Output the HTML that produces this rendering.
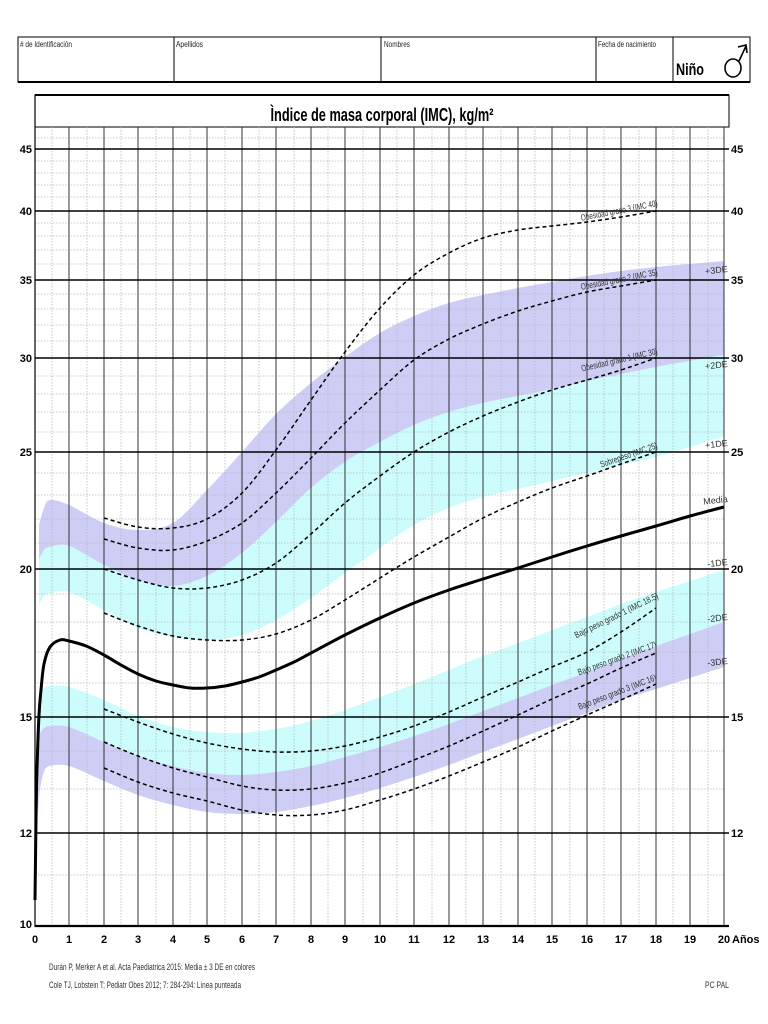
<!DOCTYPE html>
<html><head><meta charset="utf-8"><style>
html,body{margin:0;padding:0;background:#fff;}
svg{display:block;}
text{font-family:"Liberation Sans Narrow","Liberation Sans",sans-serif;}
</style></head><body>
<svg id="c" width="768" height="1024" viewBox="0 0 768 1024" xmlns="http://www.w3.org/2000/svg">
<!-- header -->
<rect x="18" y="37" width="732" height="45" fill="none" stroke="#000" stroke-width="1"/>
<line x1="18" y1="82" x2="750" y2="82" stroke="#000" stroke-width="2"/>
<line x1="174" y1="37" x2="174" y2="82" stroke="#000"/>
<line x1="381" y1="37" x2="381" y2="82" stroke="#000"/>
<line x1="596" y1="37" x2="596" y2="82" stroke="#000"/>
<line x1="673" y1="37" x2="673" y2="82" stroke="#000"/>
<g font-size="8" fill="#222">
<text x="20" y="47" textLength="52" lengthAdjust="spacingAndGlyphs"># de Identificación</text>
<text x="176" y="47" textLength="27" lengthAdjust="spacingAndGlyphs">Apellidos</text>
<text x="384" y="47" textLength="26" lengthAdjust="spacingAndGlyphs">Nombres</text>
<text x="598" y="47" textLength="58" lengthAdjust="spacingAndGlyphs">Fecha de nacimiento</text>
</g>
<text x="676" y="75" font-size="17" font-weight="bold" textLength="28" lengthAdjust="spacingAndGlyphs">Niño</text>
<g fill="none" stroke="#000" stroke-width="1.6">
<ellipse cx="733" cy="68" rx="8" ry="9"/>
<line x1="739" y1="61" x2="746" y2="46"/>
<polyline points="738,47 746,45 747,53"/>
</g>

<!-- title box -->
<rect x="35" y="95" width="694" height="32" fill="none" stroke="#000" stroke-width="1"/>
<line x1="35" y1="95" x2="729" y2="95" stroke="#000" stroke-width="2"/>
<text x="382" y="121" font-size="18" font-weight="bold" text-anchor="middle" textLength="223" lengthAdjust="spacingAndGlyphs">Ìndice de masa corporal (IMC), kg/m²</text>

<!-- bands -->
<polygon class="s" fill="#cdcdf6" points="39,525 44,508 50,500 69,505 104,523 138,530 173,523 207,490 242,452 276,414 311,383 345,357 380,333 414,316 449,303 483,295 518,288 552,282 587,276 621,271 656,267 690,264 724,261 724,355 690,361 656,367 621,374 587,381 552,389 518,396 483,403 449,412 414,425 380,442 345,462 311,488 276,522 242,553 207,576 173,586 138,580 104,565 69,546 50,547 44,550 39,560"/>
<polygon class="s" fill="#ccfdfc" points="39,560 44,550 50,547 69,546 104,565 138,580 173,586 207,576 242,553 276,522 311,488 345,462 380,442 414,425 449,412 483,403 518,396 552,389 587,381 621,374 656,367 690,361 724,355 724,436 690,447 656,457 621,465 587,473 552,481 518,489 483,497 449,508 414,525 380,548 345,573 311,598 276,620 242,635 207,640 173,637 138,628 104,610 69,592 50,593 44,596 39,605"/>
<polygon class="s" fill="#ccfdfc" points="39,692 44,688 50,686 69,687 104,700 138,716 173,727 207,732 242,733 276,729 311,721 345,710 380,697 414,684 449,670 483,656 518,643 552,630 587,617 621,604 656,592 690,581 724,570 724,622 690,634 656,646 621,659 587,672 552,685 518,698 483,711 449,724 414,736 380,747 345,757 311,766 276,772 242,775 207,773 173,766 138,756 104,742 69,727 50,726 44,728 39,735"/>
<polygon class="s" fill="#cdcdf6" points="39,735 44,728 50,726 69,727 104,742 138,756 173,766 207,773 242,775 276,772 311,766 345,757 380,747 414,736 449,724 483,711 518,698 552,685 587,672 621,659 656,646 690,634 724,622 724,667 690,678 656,689 621,700 587,713 552,726 518,739 483,752 449,765 414,777 380,788 345,798 311,806 276,812 242,814 207,812 173,805 138,795 104,781 69,766 50,766 44,772 40,790 38,815"/>

<!-- minor grid -->
<g stroke="#b8b8b8" stroke-width="0.8" stroke-dasharray="1.5,1.5" fill="none">
<path d="M35 875H724M35 789H724M35 751H724M35 683H724M35 652H724M35 622H724M35 594H724M35 543H724M35 519H724M35 495H724M35 473H724M35 432H724M35 412H724M35 394H724M35 376H724M35 341H724M35 325H724M35 309H724M35 294H724M35 264H724M35 250H724M35 236H724M35 223H724M35 197H724M35 185H724M35 173H724M35 161H724M35 138H724"/>
<path d="M52 127V927M87 127V927M121 127V927M156 127V927M190 127V927M225 127V927M259 127V927M294 127V927M328 127V927M363 127V927M397 127V927M432 127V927M466 127V927M501 127V927M535 127V927M570 127V927M604 127V927M639 127V927M673 127V927M708 127V927"/>
</g>
<!-- year lines -->
<g stroke="#333" stroke-width="1">
<path d="M69 127V927M104 127V927M138 127V927M173 127V927M207 127V927M242 127V927M276 127V927M311 127V927M345 127V927M380 127V927M414 127V927M449 127V927M483 127V927M518 127V927M552 127V927M587 127V927M621 127V927M656 127V927M690 127V927M724 127V927"/>
</g>
<line x1="35" y1="95" x2="35" y2="927" stroke="#000" stroke-width="1.2"/>
<!-- major lines -->
<g stroke="#000" stroke-width="1.6">
<path d="M35 149H729M35 211H729M35 280H729M35 358H729M35 452H729M35 569H729M35 717H729M35 833H729"/>
</g>
<line x1="35" y1="926" x2="729" y2="926" stroke="#000" stroke-width="2.2"/>

<!-- axis labels -->
<g font-size="11" font-weight="bold" text-anchor="end">
<text x="32" y="153">45</text><text x="32" y="215">40</text><text x="32" y="284">35</text><text x="32" y="362">30</text><text x="32" y="456">25</text><text x="32" y="573">20</text><text x="32" y="721">15</text><text x="32" y="837">12</text><text x="32" y="928">10</text>
</g>
<g font-size="11" font-weight="bold">
<text x="731" y="153">45</text><text x="731" y="215">40</text><text x="731" y="284">35</text><text x="731" y="362">30</text><text x="731" y="456">25</text><text x="731" y="573">20</text><text x="731" y="721">15</text><text x="731" y="837">12</text>
</g>
<g font-size="11" font-weight="bold" text-anchor="middle">
<text x="35" y="943">0</text><text x="69" y="943">1</text><text x="104" y="943">2</text><text x="138" y="943">3</text><text x="173" y="943">4</text><text x="207" y="943">5</text><text x="242" y="943">6</text><text x="276" y="943">7</text><text x="311" y="943">8</text><text x="345" y="943">9</text><text x="380" y="943">10</text><text x="414" y="943">11</text><text x="449" y="943">12</text><text x="483" y="943">13</text><text x="518" y="943">14</text><text x="552" y="943">15</text><text x="587" y="943">16</text><text x="621" y="943">17</text><text x="656" y="943">18</text><text x="690" y="943">19</text><text x="724" y="943">20</text>
</g>
<text x="732" y="943" font-size="11" font-weight="bold">Años</text>

<!-- dashed Cole lines -->
<g fill="none" stroke="#000" stroke-width="1.5" stroke-dasharray="4,3">
<polyline class="s" points="104,518 138,527 173,528 207,519 242,493 276,450 311,400 345,352 380,308 414,275 449,253 483,238 518,230 552,226 587,222 621,217 656,211"/>
<polyline class="s" points="104,539 138,548 173,550 207,541 242,523 276,493 311,458 345,423 380,390 414,360 449,339 483,324 518,311 552,301 587,292 621,286 656,280"/>
<polyline class="s" points="104,569 138,580 173,588 207,588 242,580 276,563 311,534 345,503 380,476 414,452 449,432 483,416 518,402 552,390 587,380 621,370 656,358"/>
<polyline class="s" points="104,613 138,626 173,636 207,640 242,640 276,634 311,620 345,600 380,578 414,557 449,537 483,518 518,502 552,488 587,476 621,464 656,452"/>
<polyline class="s" points="104,709 138,722 173,734 207,743 242,749 276,752 311,751 345,746 380,737 414,726 449,712 483,697 518,682 552,667 587,652 621,632 656,608"/>
<polyline class="s" points="104,742 138,756 173,768 207,777 242,786 276,790 311,789 345,783 380,773 414,760 449,746 483,731 518,715 552,699 587,684 621,668 656,653"/>
<polyline class="s" points="104,768 138,782 173,793 207,801 242,810 276,815 311,815 345,810 380,800 414,789 449,776 483,762 518,747 552,731 587,715 621,700 656,684"/>
</g>
<!-- median -->
<polyline class="s" fill="none" stroke="#000" stroke-width="3" stroke-linejoin="round" points="35,900 36,820 37,770 39,715 41,690 44,664 50,647 60,640 69,641 86,646 104,655 121,665 138,674 156,681 173,685 190,688 207,688 225,686 242,682 259,677 276,670 294,662 311,653 345,635 380,618 414,603 449,590 483,579 518,568 552,557 587,546 621,536 656,526 690,516 724,507"/>

<!-- curve labels -->
<g font-size="9" fill="#333" text-anchor="end">
<text transform="translate(658,206) rotate(-11)" textLength="78" lengthAdjust="spacingAndGlyphs">Obesidad grado 3 (IMC 40)</text>
<text transform="translate(658,275) rotate(-11)" textLength="78" lengthAdjust="spacingAndGlyphs">Obesidad grado 2 (IMC 35)</text>
<text transform="translate(658,354) rotate(-13)" textLength="78" lengthAdjust="spacingAndGlyphs">Obesidad grado 1 (IMC 30)</text>
<text transform="translate(658,448) rotate(-19)" textLength="60" lengthAdjust="spacingAndGlyphs">Sobrepeso (IMC 25)</text>
<text transform="translate(659,598) rotate(-26)" textLength="92" lengthAdjust="spacingAndGlyphs">Bajo peso grado 1  (IMC 18.5)</text>
<text transform="translate(657,647) rotate(-20)" textLength="83" lengthAdjust="spacingAndGlyphs">Bajo peso grado 2  (IMC 17)</text>
<text transform="translate(657,680) rotate(-21)" textLength="83" lengthAdjust="spacingAndGlyphs">Bajo peso grado 3  (IMC 16)</text>
</g>
<g font-size="9" fill="#333" text-anchor="end">
<text transform="translate(728,272) rotate(-6)">+3DE</text>
<text transform="translate(728,367) rotate(-6)">+2DE</text>
<text transform="translate(728,446) rotate(-6)">+1DE</text>
<text transform="translate(728,502) rotate(-6)">Media</text>
<text transform="translate(728,565) rotate(-6)">-1DE</text>
<text transform="translate(728,620) rotate(-6)">-2DE</text>
<text transform="translate(728,664) rotate(-6)">-3DE</text>
</g>

<!-- footnotes -->
<g font-size="9" fill="#333">
<text x="49" y="970" textLength="206" lengthAdjust="spacingAndGlyphs">Durán P, Merker A et al. Acta Paediatrica 2015: Media ± 3 DE en colores</text>
<text x="49" y="988" textLength="192" lengthAdjust="spacingAndGlyphs">Cole TJ, Lobstein T; Pediatr Obes 2012; 7: 284-294: Línea punteada</text>
<text x="705" y="988" textLength="24" lengthAdjust="spacingAndGlyphs">PC PAL</text>
</g>
</svg>
<script>
(function(){
var NS="http://www.w3.org/2000/svg";
var els=document.querySelectorAll(".s");
for(var i=0;i<els.length;i++){
 var el=els[i];
 var closed=el.tagName.toLowerCase()=="polygon";
 var p=el.getAttribute("points").trim().split(/\s+/).map(function(s){var a=s.split(",");return [+a[0],+a[1]];});
 function seg(pts){
  var d="";
  for(var k=0;k<pts.length-1;k++){
   var p0=pts[k-1]||pts[k],p1=pts[k],p2=pts[k+1],p3=pts[k+2]||pts[k+1];
   var c1=[p1[0]+(p2[0]-p0[0])/6,p1[1]+(p2[1]-p0[1])/6];
   var c2=[p2[0]-(p3[0]-p1[0])/6,p2[1]-(p3[1]-p1[1])/6];
   d+=" C"+c1[0].toFixed(1)+" "+c1[1].toFixed(1)+" "+c2[0].toFixed(1)+" "+c2[1].toFixed(1)+" "+p2[0]+" "+p2[1];
  }
  return d;
 }
 var d;
 if(closed){
  var n=p.length/2;
  var a=p.slice(0,n),b=p.slice(n);
  d="M"+a[0][0]+" "+a[0][1]+seg(a)+" L"+b[0][0]+" "+b[0][1]+seg(b)+" Z";
 } else {
  d="M"+p[0][0]+" "+p[0][1]+seg(p);
 }
 var path=document.createElementNS(NS,"path");
 for(var j=0;j<el.attributes.length;j++){var at=el.attributes[j];if(at.name!="points"&&at.name!="class")path.setAttribute(at.name,at.value);}
 path.setAttribute("d",d);
 el.parentNode.replaceChild(path,el);
}
})();
</script>
</body></html>
